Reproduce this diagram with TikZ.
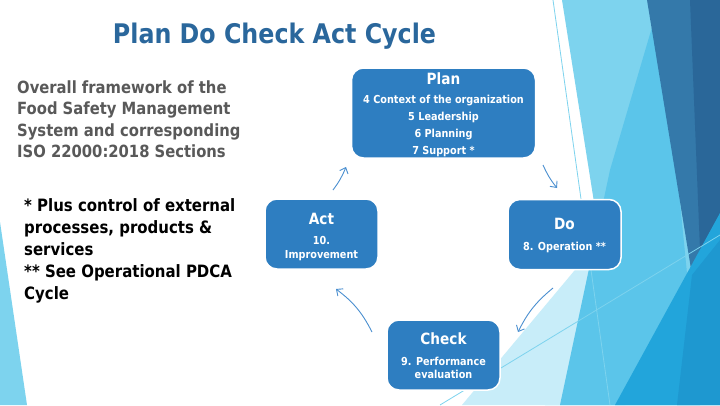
\documentclass[tikz,border=0pt]{standalone}
\usepackage{fontspec}
\setmainfont{DejaVu Sans}[FakeStretch=0.88]
\usetikzlibrary{arrows.meta}
\definecolor{boxblue}{HTML}{2E7EC1}
\definecolor{titleblue}{HTML}{2A679C}
\definecolor{arrowblue}{HTML}{4A8FD0}
\definecolor{grayt}{HTML}{595959}
\definecolor{lb}{HTML}{7DD3EE}
\definecolor{pale}{HTML}{C8EDF9}
\definecolor{midb}{HTML}{5BC5EA}
\definecolor{steel}{HTML}{3479AA}
\definecolor{darkb}{HTML}{2A6799}
\definecolor{brightb}{HTML}{22A5DB}
\definecolor{brightc}{HTML}{1E98D0}
\begin{document}
\begin{tikzpicture}[x=1pt,y=-1pt,
  box/.style={draw=white, line width=1.5pt, fill=boxblue, rounded corners=12pt, inner sep=0pt},
  head/.style={text=white, font=\bfseries\fontsize{15.5}{18}\selectfont, anchor=base, inner sep=0pt},
  body/.style={text=white, font=\bfseries\fontsize{11}{14}\selectfont, anchor=base, inner sep=0pt},
  side/.style={font=\bfseries\fontsize{16.8}{21.5}\selectfont, anchor=base west, inner sep=0pt},
  note/.style={side, text=black, font=\bfseries\fontsize{17}{22}\selectfont},
  arr/.style={draw=arrowblue, line width=0.9pt, -{Straight Barb[length=5pt,width=9pt]}}]
\useasboundingbox (0,0) rectangle (720,405);
\fill[white] (0,0) rectangle (720,405);
% background decoration
\fill[lb] (0,222) -- (27,405) -- (0,405) -- cycle;
\fill[lb] (562,0) -- (720,0) -- (720,405) -- (545,405) -- (600,240) -- cycle;
\fill[pale] (462,405) -- (600,240) -- (625,405) -- cycle;
\fill[midb] (610,170) -- (660,0) -- (700,405) -- (560,405) -- cycle;
\fill[steel] (647,0) -- (720,0) -- (720,215) -- (692,275) -- cycle;
\fill[darkb] (690,0) -- (720,0) -- (720,213) -- (700,250) -- cycle;
\fill[brightb] (720,213) -- (720,405) -- (615,405) -- cycle;
\fill[brightc] (692,275) -- (720,240) -- (720,405) -- (677,405) -- cycle;
\draw[lb, line width=0.8pt] (553,0) -- (610,405);
\draw[lb, line width=0.8pt] (440,405) -- (720,235);
% title
\node[text=titleblue, font=\bfseries\fontsize{27}{32}\selectfont, anchor=base, inner sep=0pt] (title) at (274.5,43) {Plan Do Check Act Cycle};
% left texts
\node[side, text=grayt] (l1) at (17,93) {Overall framework of the};
\node[side, text=grayt] (l2) at (17,114.5) {Food Safety Management};
\node[side, text=grayt] (l3) at (17,136) {System and corresponding};
\node[side, text=grayt] (l4) at (17,157.5) {ISO 22000:2018 Sections};
\node[note] (n1) at (24,211) {* Plus control of external};
\node[note] (n2) at (24,233) {processes, products \&};
\node[note] (n3) at (24,255) {services};
\node[note] (n4) at (24,277) {** See Operational PDCA};
\node[note] (n5) at (24,299) {Cycle};
% boxes
\node[box, minimum width=184pt, minimum height=90pt] (plan) at (443.5,113) {};
\node[box, minimum width=113pt, minimum height=70pt] (act) at (321.5,234) {};
\node[box, minimum width=113pt, minimum height=70pt] (do) at (564.5,234.5) {};
\node[box, minimum width=113pt, minimum height=70pt] (check) at (443.5,355) {};
% box texts
\node[head] (planH) at (443.5,84) {Plan};
\node[body] (planA) at (443.5,103) {4 Context of the organization};
\node[body] (planB) at (443.5,120) {5 Leadership};
\node[body] (planC) at (443.5,137) {6 Planning};
\node[body] (planD) at (443.5,154) {7 Support *};
\node[head] (actH) at (321.5,224.5) {Act};
\node[body] (actA) at (321.5,244) {10.};
\node[body] (actB) at (321.5,258) {Improvement};
\node[head] (doH) at (564.5,229.5) {Do};
\node[body] (doA) at (564.5,250) {8. Operation **};
\node[head] (checkH) at (443.5,344.5) {Check};
\node[body] (checkA) at (443.5,365) {9. Performance};
\node[body] (checkB) at (443.5,378) {evaluation};
% arrows
\coordinate (a1) at (543,165);
\coordinate (a2) at (557,188);
\coordinate (b1) at (553,288);
\coordinate (b2) at (518,332);
\coordinate (c1) at (372,332);
\coordinate (c2) at (336,289);
\coordinate (d1) at (333,190);
\coordinate (d2) at (346,167);
\draw[arr] (a1) to[bend right=7] (a2);
\draw[arr] (b1) to[bend right=12] (b2);
\draw[arr] (c1) to[bend right=13] (c2);
\draw[arr] (d1) to[bend right=7] (d2);
\end{tikzpicture}
\end{document}
